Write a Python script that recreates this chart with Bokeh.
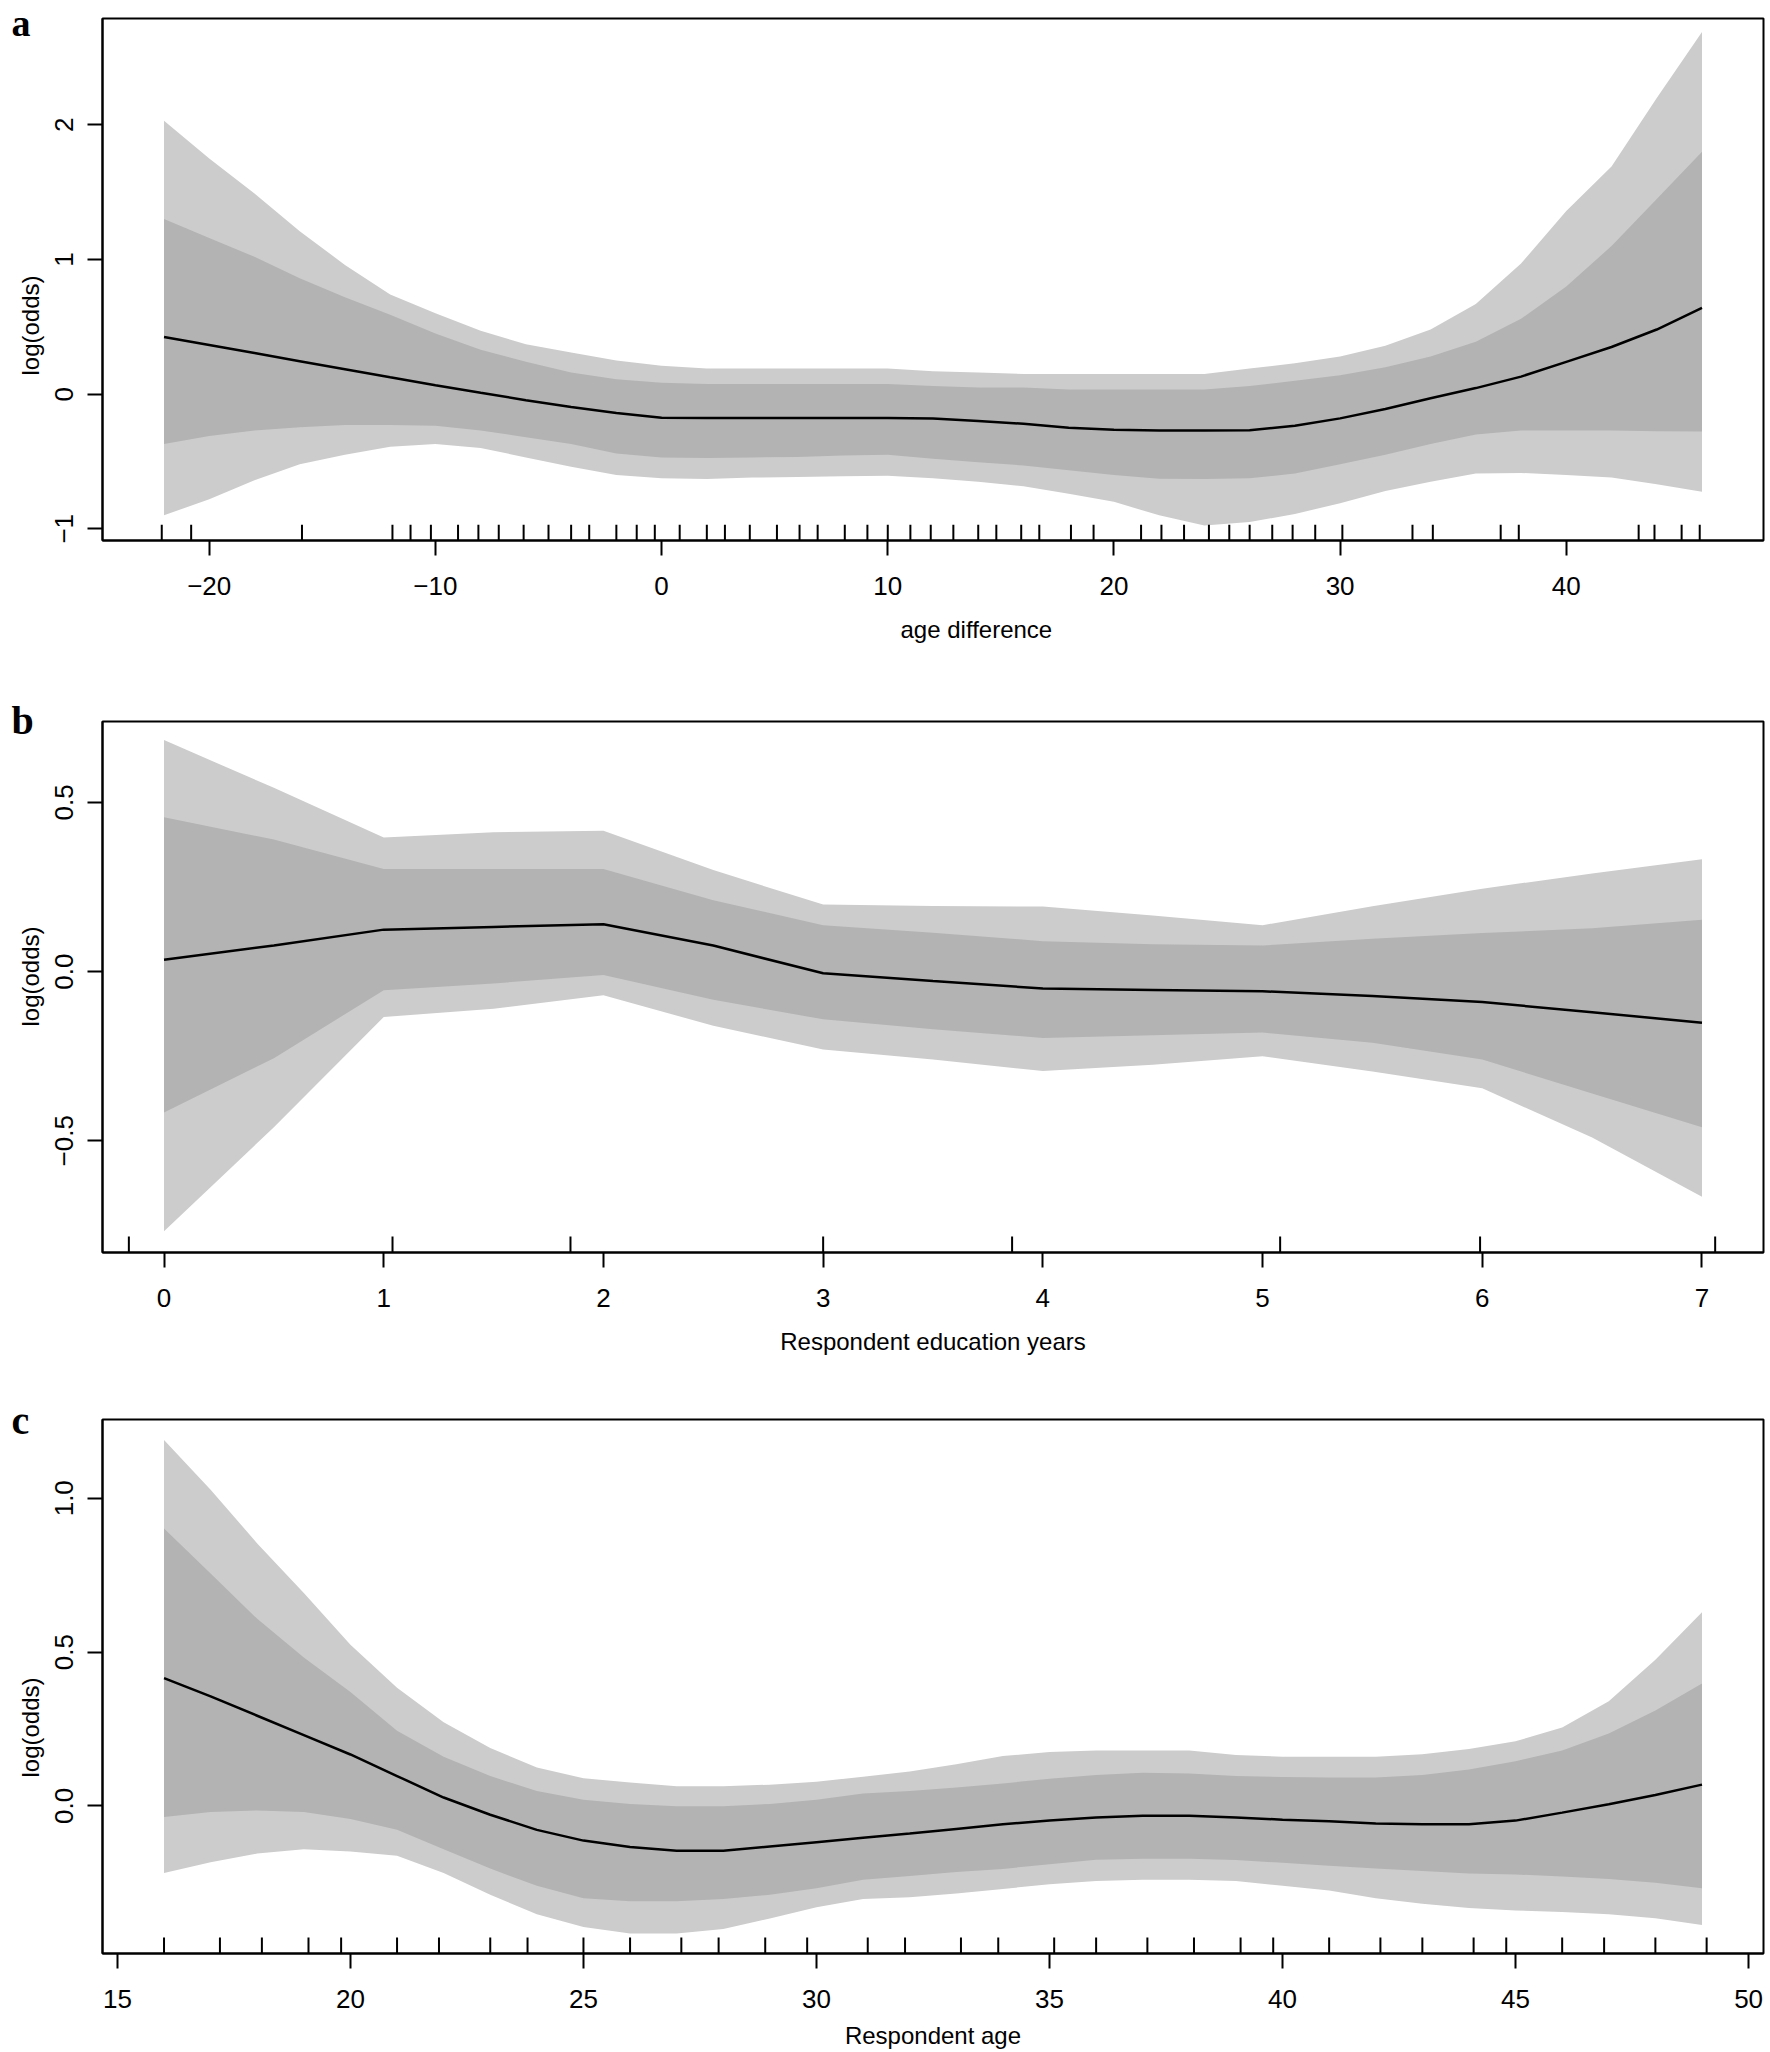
from bokeh.plotting import figure
from bokeh.layouts import column
from bokeh.models import Range1d, FixedTicker, Title
from bokeh.embed import file_html
from bokeh.resources import INLINE

# ---------------- Panel a: age difference ----------------
a_x = [-22, -20, -18, -16, -14, -12, -10, -8, -6, -4, -2, 0, 2, 4, 6, 8, 10, 12, 14, 16,
       18, 20, 22, 24, 26, 28, 30, 32, 34, 36, 38, 40, 42, 44, 46]
a_fit = [0.425, 0.365, 0.305, 0.245, 0.185, 0.125, 0.066, 0.01, -0.045, -0.095, -0.14, -0.175,
         -0.178, -0.178, -0.178, -0.178, -0.178, -0.18, -0.2, -0.22, -0.25, -0.265, -0.27, -0.27,
         -0.268, -0.235, -0.18, -0.11, -0.03, 0.045, 0.13, 0.24, 0.35, 0.48, 0.64]
a_upper95 = [2.03, 1.75, 1.49, 1.21, 0.96, 0.74, 0.6, 0.47, 0.37, 0.31, 0.25, 0.21,
             0.19, 0.19, 0.19, 0.19, 0.19, 0.17, 0.16, 0.15, 0.15, 0.15, 0.15, 0.15,
             0.19, 0.23, 0.28, 0.36, 0.48, 0.67, 0.97, 1.36, 1.69, 2.2, 2.69]
a_upper50 = [1.3, 1.16, 1.02, 0.86, 0.72, 0.59, 0.45, 0.33, 0.24, 0.16, 0.11, 0.085,
             0.075, 0.075, 0.075, 0.075, 0.075, 0.06, 0.05, 0.05, 0.035, 0.034, 0.034, 0.034,
             0.06, 0.1, 0.14, 0.2, 0.28, 0.39, 0.56, 0.8, 1.1, 1.45, 1.8]
a_lower50 = [-0.37, -0.31, -0.27, -0.245, -0.23, -0.23, -0.235, -0.27, -0.32, -0.37, -0.44, -0.47,
             -0.475, -0.47, -0.466, -0.455, -0.45, -0.48, -0.505, -0.53, -0.565, -0.6, -0.628, -0.63,
             -0.625, -0.59, -0.52, -0.45, -0.37, -0.3, -0.27, -0.27, -0.27, -0.275, -0.278]
a_lower95 = [-0.9, -0.78, -0.64, -0.52, -0.45, -0.39, -0.37, -0.4, -0.47, -0.54, -0.6, -0.625,
             -0.63, -0.62, -0.615, -0.61, -0.606, -0.625, -0.65, -0.685, -0.74, -0.8, -0.9, -0.975,
             -0.95, -0.89, -0.81, -0.72, -0.65, -0.59, -0.585, -0.6, -0.62, -0.67, -0.725]
a_rug = [-22.1, -20.8, -15.9, -11.9, -11.1, -10.2, -9.0, -8.1, -7.2, -6.1, -5.0, -4.0, -3.2,
         -2.0, -1.1, -0.3, 0.8, 2.0, 2.8, 3.9, 5.1, 6.1, 6.9, 8.1, 9.1, 10.0, 11.0, 11.9, 12.9,
         14.0, 14.8, 15.9, 16.7, 18.1, 19.1, 21.2, 22.1, 23.1, 24.2, 25.1, 26.0, 27.0, 27.9,
         28.9, 30.1, 33.2, 34.1, 37.1, 37.9, 43.2, 43.9, 45.1, 45.9]
a_xticks = [-20, -10, 0, 10, 20, 30, 40]
a_xlabels = ["\u221220", "\u221210", "0", "10", "20", "30", "40"]
a_yticks = [-1, 0, 1, 2]
a_ylabels = ["\u22121", "0", "1", "2"]
a_xrange = (-24.72, 48.72)
a_yrange = (-1.087, 2.79)
a_ytitle_at = 0.51      # level (log odds) at which the y title is centred
a_xtitle_start = 798    # the x title starts this many pixels right of the frame's left edge

# ---------------- Panel b: respondent education years ----------------
b_x = [0, 0.5, 1, 1.5, 2, 2.5, 3, 3.5, 4, 4.5, 5, 5.5, 6, 6.5, 7]
b_fit = [0.035, 0.077, 0.124, 0.132, 0.14, 0.077, -0.005, -0.028, -0.05, -0.054, -0.058,
         -0.072, -0.09, -0.12, -0.151]
b_upper95 = [0.684, 0.543, 0.396, 0.412, 0.416, 0.3, 0.198, 0.194, 0.192, 0.166, 0.137,
             0.193, 0.245, 0.29, 0.332]
b_upper50 = [0.456, 0.39, 0.303, 0.303, 0.303, 0.211, 0.137, 0.115, 0.09, 0.081, 0.077,
             0.097, 0.114, 0.128, 0.153]
b_lower50 = [-0.416, -0.256, -0.055, -0.035, -0.01, -0.083, -0.141, -0.17, -0.196, -0.188,
             -0.18, -0.21, -0.26, -0.36, -0.46]
b_lower95 = [-0.767, -0.46, -0.134, -0.11, -0.07, -0.16, -0.23, -0.26, -0.294, -0.275,
             -0.25, -0.295, -0.345, -0.49, -0.665]
b_rug = [-0.16, 1.04, 1.85, 3.0, 3.86, 5.08, 5.99, 7.06]
b_xticks = [0, 1, 2, 3, 4, 5, 6, 7]
b_xlabels = ["0", "1", "2", "3", "4", "5", "6", "7"]
b_yticks = [-0.5, 0.0, 0.5]
b_ylabels = ["\u22120.5", "0.0", "0.5"]
b_xrange = (-0.28, 7.28)
b_yrange = (-0.83, 0.739)
b_ytitle_at = -0.013

# ---------------- Panel c: respondent age ----------------
c_x = list(range(16, 50))
c_fit = [0.415, 0.356, 0.293, 0.23, 0.167, 0.097, 0.027, -0.029, -0.078, -0.113, -0.134,
         -0.146, -0.146, -0.132, -0.118, -0.104, -0.09, -0.075, -0.06, -0.048, -0.038, -0.032,
         -0.032, -0.038, -0.045, -0.05, -0.057, -0.06, -0.06, -0.048, -0.022, 0.005, 0.035, 0.069]
c_upper95 = [1.189, 1.028, 0.853, 0.692, 0.524, 0.384, 0.272, 0.188, 0.125, 0.09, 0.076,
             0.064, 0.064, 0.069, 0.078, 0.095, 0.112, 0.135, 0.162, 0.175, 0.18, 0.18,
             0.18, 0.165, 0.16, 0.16, 0.16, 0.168, 0.185, 0.21, 0.255, 0.34, 0.475, 0.629]
c_upper50 = [0.902, 0.755, 0.608, 0.482, 0.37, 0.244, 0.16, 0.097, 0.048, 0.02, 0.006,
             -0.001, -0.001, 0.006, 0.02, 0.04, 0.048, 0.06, 0.073, 0.088, 0.1, 0.108,
             0.105, 0.097, 0.094, 0.092, 0.092, 0.1, 0.118, 0.145, 0.18, 0.235, 0.31, 0.398]
c_lower50 = [-0.036, -0.02, -0.015, -0.02, -0.043, -0.078, -0.141, -0.204, -0.26, -0.3, -0.31,
             -0.31, -0.303, -0.289, -0.268, -0.24, -0.228, -0.215, -0.205, -0.19, -0.175, -0.172,
             -0.172, -0.176, -0.185, -0.195, -0.204, -0.212, -0.22, -0.223, -0.23, -0.238, -0.25, -0.268]
c_lower95 = [-0.218, -0.183, -0.155, -0.141, -0.148, -0.162, -0.218, -0.289, -0.352, -0.394,
             -0.415, -0.415, -0.4, -0.366, -0.33, -0.303, -0.297, -0.285, -0.27, -0.255, -0.244,
             -0.24, -0.24, -0.244, -0.26, -0.275, -0.3, -0.318, -0.332, -0.34, -0.345, -0.352,
             -0.365, -0.387]
c_rug = [16.0, 17.2, 18.1, 19.1, 19.8, 21.0, 21.9, 23.0, 23.8, 25.0, 26.0, 27.1, 27.9, 28.9,
         29.8, 31.1, 31.9, 33.1, 33.9, 35.1, 36.0, 37.1, 38.1, 39.1, 39.8, 41.0, 42.1, 43.0,
         44.1, 44.8, 46.0, 46.9, 48.0, 49.1]
c_xticks = [15, 20, 25, 30, 35, 40, 45, 50]
c_xlabels = ["15", "20", "25", "30", "35", "40", "45", "50"]
c_yticks = [0.0, 0.5, 1.0]
c_ylabels = ["0.0", "0.5", "1.0"]
c_xrange = (14.68, 50.32)
c_yrange = (-0.48, 1.256)
c_ytitle_at = 0.255

LIGHT = "#cccccc"
DARK = "#b3b3b3"
SANS = "Liberation Sans"
SERIF = "Liberation Serif"
YTITLE = "log(odds)"
YTITLE_HALF_LEN = 50   # half the drawn length of "log(odds)" at 24px, in pixels


def panel(letter, x, fit, u95, u50, l50, l95, rug, xt, xl, yt, yl, xr, yr, xtitle, ytitle_at,
          height, btop, bbottom, x_title_standoff, letter_size, letter_standoff,
          xtitle_start=None):
    p = figure(width=1770, height=height, output_backend="svg", toolbar_location=None,
               x_range=Range1d(*xr), y_range=Range1d(*yr),
               min_border_left=102, min_border_right=7,
               min_border_top=btop, min_border_bottom=bbottom)
    p.background_fill_color = "white"
    p.border_fill_color = "white"
    p.xgrid.visible = False
    p.ygrid.visible = False
    p.outline_line_color = "black"
    p.outline_line_width = 2
    p.outline_line_alpha = 1

    p.varea(x=x, y1=l95, y2=u95, fill_color=LIGHT, fill_alpha=1)
    p.varea(x=x, y1=l50, y2=u50, fill_color=DARK, fill_alpha=1)
    p.line(x=x, y=fit, line_color="black", line_width=2.5)

    # rug along the bottom edge (3% of the plot height, as in R's rug())
    y0 = yr[0]
    y1 = yr[0] + 0.03 * (yr[1] - yr[0])
    p.segment(x0=rug, y0=[y0] * len(rug), x1=rug, y1=[y1] * len(rug),
              line_color="black", line_width=2)

    for ax in (p.xaxis[0], p.yaxis[0]):
        ax.axis_line_width = 2
        ax.axis_line_color = "black"
        ax.major_tick_line_width = 2
        ax.major_tick_out = 15
        ax.major_tick_in = 0
        ax.minor_tick_line_color = None
        ax.major_label_text_font = SANS
        ax.major_label_text_font_size = "26px"
        ax.major_label_text_color = "black"
        ax.axis_label_text_font = SANS
        ax.axis_label_text_font_size = "24px"
        ax.axis_label_text_font_style = "normal"
        ax.axis_label_text_color = "black"

    xa = p.xaxis[0]
    xa.ticker = FixedTicker(ticks=xt)
    xa.major_label_overrides = {t: l for t, l in zip(xt, xl)}
    xa.major_label_standoff = 21
    if xtitle_start is None:
        xa.axis_label = xtitle
        xa.axis_label_standoff = x_title_standoff
    else:
        # x title sitting right of centre, as in the reference
        p.add_layout(Title(text=xtitle, align="left", offset=xtitle_start,
                           vertical_align="middle", standoff=34, text_font=SANS,
                           text_font_style="normal", text_font_size="24px",
                           text_color="black"), "below")

    ya = p.yaxis[0]
    ya.ticker = FixedTicker(ticks=yt)
    ya.major_label_overrides = {t: l for t, l in zip(yt, yl)}
    ya.major_label_orientation = "vertical"
    ya.major_label_standoff = 14

    # y title as a left-side title so that it can sit off-centre like R's
    frame_h = height - btop - bbottom
    yc = frame_h * (ytitle_at - yr[0]) / (yr[1] - yr[0])
    p.add_layout(Title(text=YTITLE, align="left", offset=int(round(yc - YTITLE_HALF_LEN)),
                       vertical_align="middle", standoff=16, text_font=SANS,
                       text_font_style="normal", text_font_size="24px",
                       text_color="black"), "left")

    # panel letter, drawn as a title pulled down beside the frame's top-left corner
    p.add_layout(Title(text=letter, align="left", offset=-91, vertical_align="bottom",
                       standoff=letter_standoff, text_font=SERIF, text_font_style="bold",
                       text_font_size=letter_size, text_color="black"), "above")
    return p


pa = panel("a", a_x, a_fit, a_upper95, a_upper50, a_lower50, a_lower95, a_rug,
           a_xticks, a_xlabels, a_yticks, a_ylabels, a_xrange, a_yrange, "age difference",
           a_ytitle_at, height=680, btop=18, bbottom=140, x_title_standoff=18,
           letter_size="38px", letter_standoff=-50, xtitle_start=a_xtitle_start)
pb = panel("b", b_x, b_fit, b_upper95, b_upper50, b_lower50, b_lower95, b_rug,
           b_xticks, b_xlabels, b_yticks, b_ylabels, b_xrange, b_yrange,
           "Respondent education years", b_ytitle_at,
           height=700, btop=41, bbottom=128, x_title_standoff=18,
           letter_size="40px", letter_standoff=-42)
pc = panel("c", c_x, c_fit, c_upper95, c_upper50, c_lower50, c_lower95, c_rug,
           c_xticks, c_xlabels, c_yticks, c_ylabels, c_xrange, c_yrange, "Respondent age",
           c_ytitle_at, height=672, btop=39, bbottom=99, x_title_standoff=11,
           letter_size="40px", letter_standoff=-46)

layout = column(pa, pb, pc, spacing=0)
open("out.html", "w").write(file_html(layout, INLINE))
